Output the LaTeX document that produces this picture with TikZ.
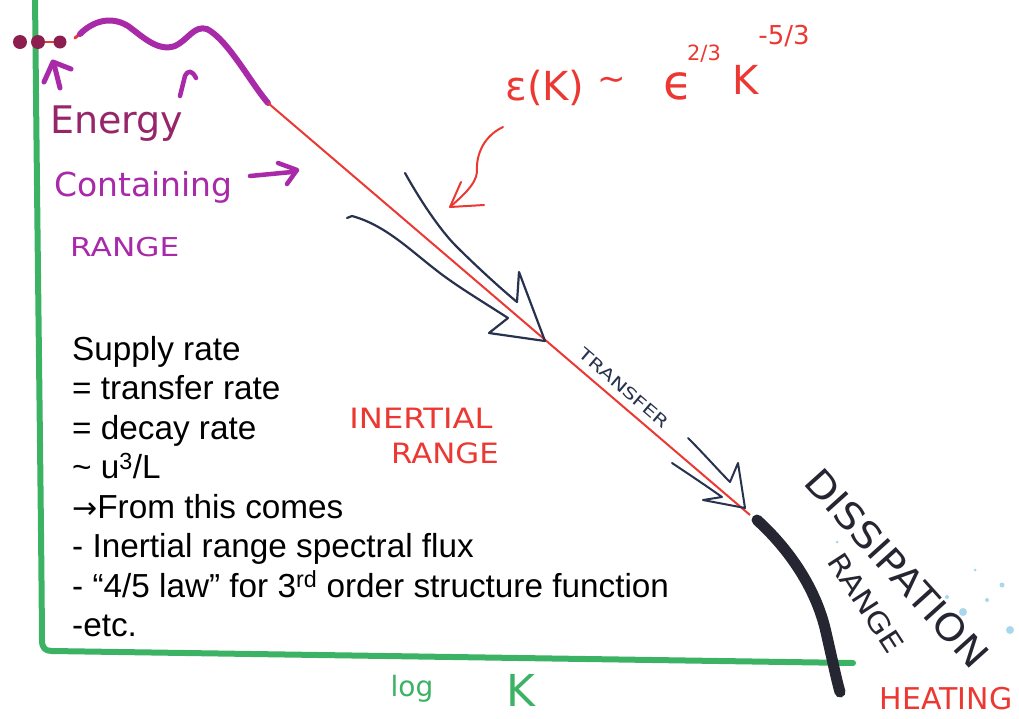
\documentclass[tikz,border=0pt]{standalone}
\usepackage{fontspec}
\setmainfont{Liberation Sans}
\newfontfamily\hand{DejaVu Sans}
\definecolor{axgreen}{RGB}{60,178,100}
\definecolor{mred}{RGB}{236,56,50}
\definecolor{mpurple}{RGB}{168,42,168}
\definecolor{mmaroon}{RGB}{150,38,105}
\definecolor{mdot}{RGB}{140,30,80}
\definecolor{mnavy}{RGB}{40,50,78}
\definecolor{mblack}{RGB}{38,38,50}
\definecolor{splat}{RGB}{170,215,235}
\begin{document}
\begin{tikzpicture}[x=1pt,y=-1pt,
  marker/.style={line cap=round,line join=round},
  notetext/.style={anchor=base west,inner sep=0pt,font=\fontsize{33.3}{38}\selectfont,text=black},
  handtext/.style={inner sep=0pt,font=\hand}]
\useasboundingbox (0,0) rectangle (1019,718);
% axes
\draw[axgreen,line width=6pt,marker] (35,-5) .. controls (38,300) and (41,500) .. (42,640)
  .. controls (42,648) and (45,651) .. (52,651) -- (853,663);
% energy containing part
\draw[mred,line width=2pt] (38,42) -- (60,42);
\fill[mdot] (20,42) circle (7);
\fill[mdot] (38,42) circle (7);
\fill[mdot] (60,42) circle (6.5);
\draw[mred,line width=3pt,marker] (75,38) -- (82,32);
\draw[mpurple,line width=6pt,marker] (80,34) .. controls (92,22) and (110,15) .. (128,26)
  .. controls (143,37) and (158,52) .. (175,46) .. controls (188,40) and (194,25) .. (207,29)
  .. controls (228,40) and (250,82) .. (268,103);
\draw[mred,line width=2pt] (268,103) -- (750,515);
% small purple arrows
\draw[mpurple,line width=5pt,marker] (44,82) -- (53,62) -- (71,69);
\draw[mpurple,line width=5pt,marker] (54,64) -- (60,88);
\draw[mpurple,line width=4.5pt,marker] (180,96) -- (185,76) .. controls (188,70) and (192,70) .. (196,78);
% purple labels
\node[handtext,anchor=base west,text=mmaroon,font=\hand\fontsize{38}{40}\selectfont] (energy) at (50,133) {Energy};
\node[handtext,anchor=base west,text=mpurple,font=\hand\fontsize{33}{36}\selectfont] (containing) at (54,196) {Containing};
\draw[mpurple,line width=4.5pt,marker] (250,176) -- (292,172);
\draw[mpurple,line width=4.5pt,marker] (278,163) -- (297,170) -- (287,184);
\node[handtext,anchor=base west,text=mpurple,font=\hand\fontsize{26}{28}\selectfont,xscale=1.2] (rangeA) at (70,256) {RANGE};
% formula
\node[handtext,text=mred,font=\hand\fontsize{40}{44}\selectfont] (ek) at (545,88) {ε(K)};
\node[handtext,text=mred,font=\hand\fontsize{34}{40}\selectfont] (sim) at (612,84) {\char"007E};
\node[handtext,text=mred,font=\hand\fontsize{48}{50}\selectfont] (eps) at (678,86) {ϵ};
\node[handtext,text=mred,font=\hand\fontsize{21}{24}\selectfont] (ptwo) at (704,54) {2/3};
\node[handtext,text=mred,font=\hand\fontsize{40}{44}\selectfont] (kk) at (746,80) {K};
\node[handtext,text=mred,font=\hand\fontsize{26}{28}\selectfont] (pfive) at (784,36) {-5/3};
\coordinate (cs) at (503,127);
\coordinate (ct) at (450,207);
\draw[mred,line width=2pt,marker] (cs) .. controls (480,138) and (476,160) .. (477,172)
  .. controls (476,185) and (460,198) .. (ct);
\draw[mred,line width=2pt,marker] (461,182) -- (ct) -- (484,205);
% navy transfer arrows
\draw[mnavy,line width=2.2pt,marker] (405,173) .. controls (420,200) and (440,230) .. (456,246)
  .. controls (475,265) and (500,288) .. (517,302) -- (519,272) -- (545,341) -- (489,333) -- (508,318)
  .. controls (480,300) and (455,285) .. (436,270) .. controls (410,250) and (385,225) .. (352,216) -- (347,218);
\draw[mnavy,line width=2pt,marker] (688,438) .. controls (705,455) and (718,470) .. (730,482) -- (738,463)
  -- (745,508) -- (703,500) -- (722,497) .. controls (705,485) and (690,475) .. (672,463);
\node[handtext,text=mnavy,font=\hand\fontsize{16}{18}\selectfont,rotate=-40.5,xscale=1.35] (transfer) at (624,388) {TRANSFER};
% inertial range
\node[handtext,text=mred,font=\hand\fontsize{28}{32}\selectfont,xscale=1.15] (inertial) at (421,418) {INERTIAL};
\node[handtext,text=mred,font=\hand\fontsize{28}{32}\selectfont,xscale=1.1] (rangeB) at (445,453) {RANGE};
% dissipation
\draw[mblack,line width=11pt,marker] (757,520) .. controls (790,550) and (815,588) .. (825,628)
  .. controls (832,658) and (836,678) .. (840,692);
\node[handtext,text=mblack,font=\hand\fontsize{37}{40}\selectfont,rotate=-48,xscale=1.1] (dissip) at (897,568) {DISSIPATION};
\node[handtext,text=mblack,font=\hand\fontsize{28}{34}\selectfont,rotate=-57,xscale=1.15] (rangeC) at (866,603) {RANGE};
\node[handtext,text=mred,font=\hand\fontsize{30}{34}\selectfont] (heating) at (946,699) {HEATING};
% splatter
\foreach \px/\py/\r in {963/612/4,1010/630/4,1002/585/2.5,987/600/2,947/597/2,837/542/1.5,975/570/1.5}
  \fill[splat] (\px,\py) circle (\r);
% axis label
\node[handtext,anchor=base,text=axgreen,font=\hand\fontsize{28}{32}\selectfont] (logl) at (412,696) {log};
\node[handtext,anchor=base,text=axgreen,font=\hand\fontsize{44}{46}\selectfont] (kaxis) at (521,706) {K};
% notes
\node[notetext] (l1) at (72,360) {Supply rate};
\node[notetext] (l2) at (72,399.5) {= transfer rate};
\node[notetext] (l3) at (72,439) {= decay rate};
\node[notetext] (l4) at (72,478.5) {\char"007E{} u\textsuperscript{3}/L};
\node[notetext] (l5) at (72,518) {{\hand\fontsize{30}{34}\selectfont →}From this comes};
\node[notetext] (l6) at (72,557.5) {- Inertial range spectral flux};
\node[notetext] (l7) at (72,597) {- “4/5 law” for 3\textsuperscript{rd} order structure function};
\node[notetext] (l8) at (72,636.5) {-etc.};
\end{tikzpicture}
\end{document}
